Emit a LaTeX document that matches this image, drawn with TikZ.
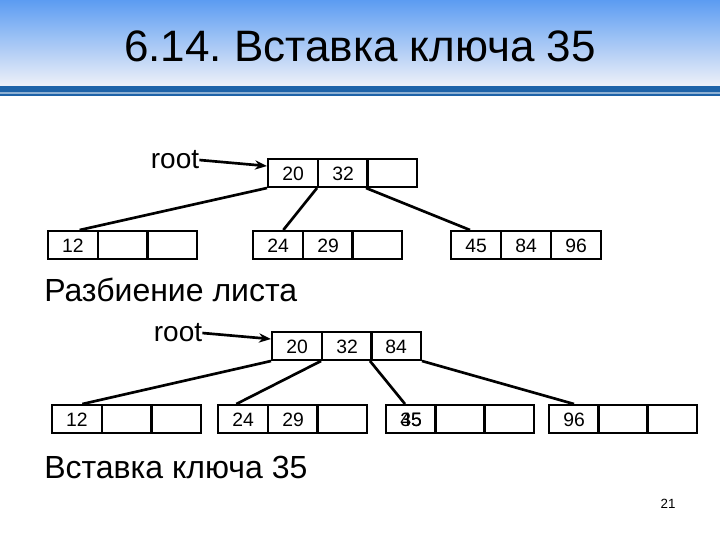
\documentclass[tikz,border=0pt]{standalone}
\usepackage{fontspec}
\setmainfont{Liberation Sans}
\usetikzlibrary{arrows.meta}
\definecolor{topblue}{HTML}{5C9CF2}
\definecolor{botblue}{HTML}{EEF1F8}
\definecolor{barblue}{HTML}{1E63A8}
\begin{document}
\frenchspacing
\begin{tikzpicture}[x=0.75pt,y=-0.75pt,
  cell/.style={draw,line width=1.5pt,minimum width=37.5pt,minimum height=21pt,inner sep=0pt,text height=10.5pt,text depth=0pt,font=\fontsize{14.5}{14.5}\selectfont},
  link/.style={line width=2pt},
  lbl/.style={inner sep=0pt,font=\fontsize{21}{21}\selectfont}]
\useasboundingbox (0,0) rectangle (720,540);
\shade[top color=topblue,bottom color=botblue] (0,0) rectangle (720,86);
\fill[barblue] (0,86) rectangle (720,96);
\fill[barblue!50] (0,92) rectangle (720,94);
\node[inner sep=0pt,font=\fontsize{33}{33}\selectfont] (title) at (360,46) {6.14. Вставка ключа 35};
% top tree
\node[cell] (r1) at (293,173) {20};
\node[cell] (r2) at (343,173) {32};
\node[cell] (r3) at (392,173) {};
\node[cell] (a1) at (73,245) {12};
\node[cell] (a2) at (123,245) {};
\node[cell] (a3) at (172,245) {};
\node[cell] (b1) at (278,245) {24};
\node[cell] (b2) at (328,245) {29};
\node[cell] (b3) at (377,245) {};
\node[cell] (c1) at (476,245) {45};
\node[cell] (c2) at (526,245) {84};
\node[cell] (c3) at (576,245) {96};
\node[lbl] (root1) at (175,160) {root};
\draw[link,-{Stealth[length=9pt,width=7pt]}] (root1.east) -- ([yshift=5.25pt]r1.west);
\draw[link] (r1.south west) -- ([xshift=5pt]a1.north);
\draw[link] (r2.south west) -- ([xshift=4pt]b1.north);
\draw[link] (r3.south west) -- ([xshift=-4.5pt]c1.north);
\node[anchor=west,inner sep=0pt,font=\fontsize{24}{24}\selectfont] (t1) at (44,290) {Разбиение листа};
% bottom tree
\node[cell] (s1) at (297,346) {20};
\node[cell] (s2) at (347,346) {32};
\node[cell] (s3) at (396,346) {84};
\node[cell] (d1) at (77,419) {12};
\node[cell] (d2) at (127,419) {};
\node[cell] (d3) at (176,419) {};
\node[cell] (e1) at (243,419) {24};
\node[cell] (e2) at (293,419) {29};
\node[cell] (e3) at (342,419) {};
\node[cell] (f1) at (411,419) {\rlap{35}45};
\node[cell] (f2) at (460,419) {};
\node[cell] (f3) at (509,419) {};
\node[cell] (g1) at (574,419) {96};
\node[cell] (g2) at (623,419) {};
\node[cell] (g3) at (672,419) {};
\node[lbl] (root2) at (178,333) {root};
\draw[link,-{Stealth[length=9pt,width=7pt]}] (root2.east) -- ([yshift=5.25pt]s1.west);
\draw[link] (s1.south west) -- ([xshift=4pt]d1.north);
\draw[link] (s2.south west) -- ([xshift=-5pt]e1.north);
\draw[link] (s3.south west) -- ([xshift=-4.5pt]f1.north);
\draw[link] (s3.south east) -- (g1.north);
\node[anchor=west,inner sep=0pt,font=\fontsize{24}{24}\selectfont] (t2) at (44,467) {Вставка ключа 35};
\node[inner sep=0pt,font=\fontsize{10}{10}\selectfont] (pg) at (668,504) {21};
\end{tikzpicture}
\end{document}
